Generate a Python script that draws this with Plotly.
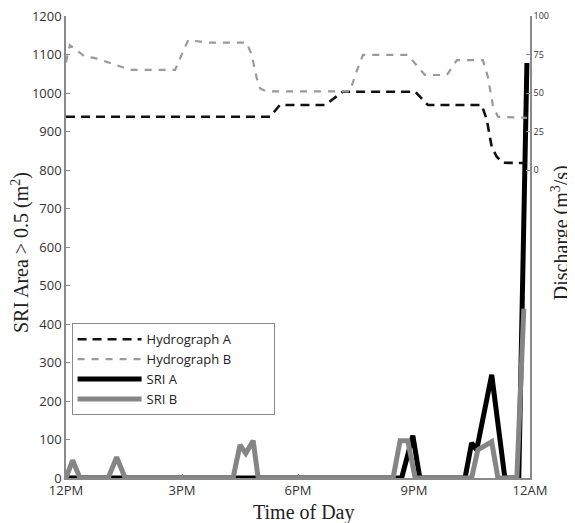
import plotly.graph_objects as go

# ---- data (hours after 12PM) ----
hydroA_t = [0, 5.28, 5.53, 6.70, 7.16, 9.03, 9.36, 10.75, 10.88, 11.01, 11.14, 11.30, 11.92]
hydroA_q = [34.6, 34.6, 42.2, 42.2, 50.8, 50.8, 42.2, 42.2, 33, 15, 8.6, 4.7, 4.5]

hydroB_t = [0, 0.10, 0.49, 0.75, 1.14, 1.66, 2.82, 3.16, 3.65, 4.67, 4.80, 4.93, 5.02, 5.19,
            7.34, 7.50, 7.68, 8.84, 9.28, 9.85, 10.11, 10.78, 10.91, 11.04, 11.17, 11.92]
hydroB_q = [70, 81, 73.6, 72.7, 69.5, 65, 65, 84.4, 82.7, 82.7, 75, 60, 53, 51,
            51, 63, 74.7, 74.7, 61.7, 61.7, 71.4, 71.4, 60.6, 42, 34.6, 33.8]

sriA_t = [0, 8.68, 8.97, 9.15, 10.32, 10.49, 10.62, 11.01, 11.35, 11.71, 11.92]
sriA_v = [0, 0, 110, 0, 0, 91, 73, 268, 0, 0, 1078]

sriB_t = [0, 0.17, 0.36, 1.09, 1.31, 1.53, 4.32, 4.50, 4.65, 4.84, 4.97,
          8.46, 8.64, 8.84, 9.03, 10.49, 10.65, 11.01, 11.17, 11.66, 11.84]
sriB_v = [0, 46, 0, 0, 54, 0, 0, 86, 64, 97, 0,
          0, 97, 97, 0, 0, 73, 94, 0, 0, 440]

series_names = ["Hydrograph A", "Hydrograph B", "SRI A", "SRI B"]

x_tickvals = [0, 3, 6, 9, 12]
x_ticktext = ["12PM", "3PM", "6PM", "9PM", "12AM"]
y_tickvals = [0, 100, 200, 300, 400, 500, 600, 700, 800, 900, 1000, 1100, 1200]
y2_tickvals = [0, 25, 50, 75, 100]

SANS = "Open Sans"
SERIF = "Liberation Serif"
AXC = "#8a8a8a"
PAD = "\u00a0" * 11  # widens the legend box to match the reference

fig = go.Figure()
fig.add_trace(go.Scatter(x=hydroA_t, y=hydroA_q, yaxis="y2", mode="lines", name=series_names[0],
                         line=dict(color="#111111", width=2.6, dash="9px,6px")))
fig.add_trace(go.Scatter(x=hydroB_t, y=hydroB_q, yaxis="y2", mode="lines", name=series_names[1] + PAD,
                         line=dict(color="#9a9a9a", width=2.2, dash="7px,7px")))
fig.add_trace(go.Scatter(x=sriA_t, y=sriA_v, mode="lines", name=series_names[2],
                         line=dict(color="#000000", width=5)))
fig.add_trace(go.Scatter(x=sriB_t, y=sriB_v, mode="lines", name=series_names[3],
                         line=dict(color="#858585", width=5)))

# page body has an 8px margin, so the figure is made 8px smaller and shifted accordingly
fig.update_layout(
    width=567, height=515,
    margin=dict(l=58, r=45, t=8, b=45, autoexpand=False),
    paper_bgcolor="white", plot_bgcolor="white",
    font=dict(family=SANS, size=13, color="#333333"),
    xaxis=dict(range=[0, 12], tickvals=x_tickvals, ticktext=x_ticktext, automargin=False,
               showline=True, linecolor=AXC, linewidth=1.5, mirror=False,
               ticks="inside", ticklen=4, tickcolor=AXC, showgrid=False, zeroline=False,
               ticklabeloverflow="allow",
               tickfont=dict(family=SANS, size=13, color="#333333")),
    yaxis=dict(range=[0, 1200], tickvals=y_tickvals, automargin=False,
               showline=True, linecolor=AXC, linewidth=1.5,
               ticks="inside", ticklen=4, tickcolor=AXC, showgrid=False, zeroline=False,
               ticklabeloverflow="allow",
               tickfont=dict(family=SANS, size=13, color="#333333")),
    yaxis2=dict(range=[-200, 100], tickvals=y2_tickvals, overlaying="y", side="right",
                automargin=False,
                showline=True, linecolor=AXC, linewidth=1.5,
                ticks="inside", ticklen=4, tickcolor=AXC, showgrid=False, zeroline=False,
                ticklabeloverflow="allow",
                tickfont=dict(family=SANS, size=9, color="#333333")),
    legend=dict(x=0.012, y=0.335, xanchor="left", yanchor="top",
                bordercolor="#8a8a8a", borderwidth=1, bgcolor="white",
                font=dict(family=SANS, size=13, color="#222222"),
                itemwidth=64, tracegroupgap=0),
    showlegend=True,
    annotations=[
        dict(text="SRI Area > 0.5 (m<sup>2</sup>)", xref="paper", yref="paper",
             x=-0.099, y=0.487, xanchor="center", yanchor="middle",
             textangle=-90, showarrow=False,
             font=dict(family=SERIF, size=20, color="#222222")),
        dict(text="Discharge (m<sup>3</sup>/s)", xref="paper", yref="paper",
             x=1.0647, y=0.53, xanchor="center", yanchor="middle",
             textangle=-90, showarrow=False,
             font=dict(family=SERIF, size=20, color="#222222")),
        dict(text="Time of Day", xref="paper", yref="paper",
             x=0.511, y=-0.0736, xanchor="center", yanchor="middle", showarrow=False,
             font=dict(family=SERIF, size=20, color="#222222")),
    ],
)

fig.write_html("out.html")
